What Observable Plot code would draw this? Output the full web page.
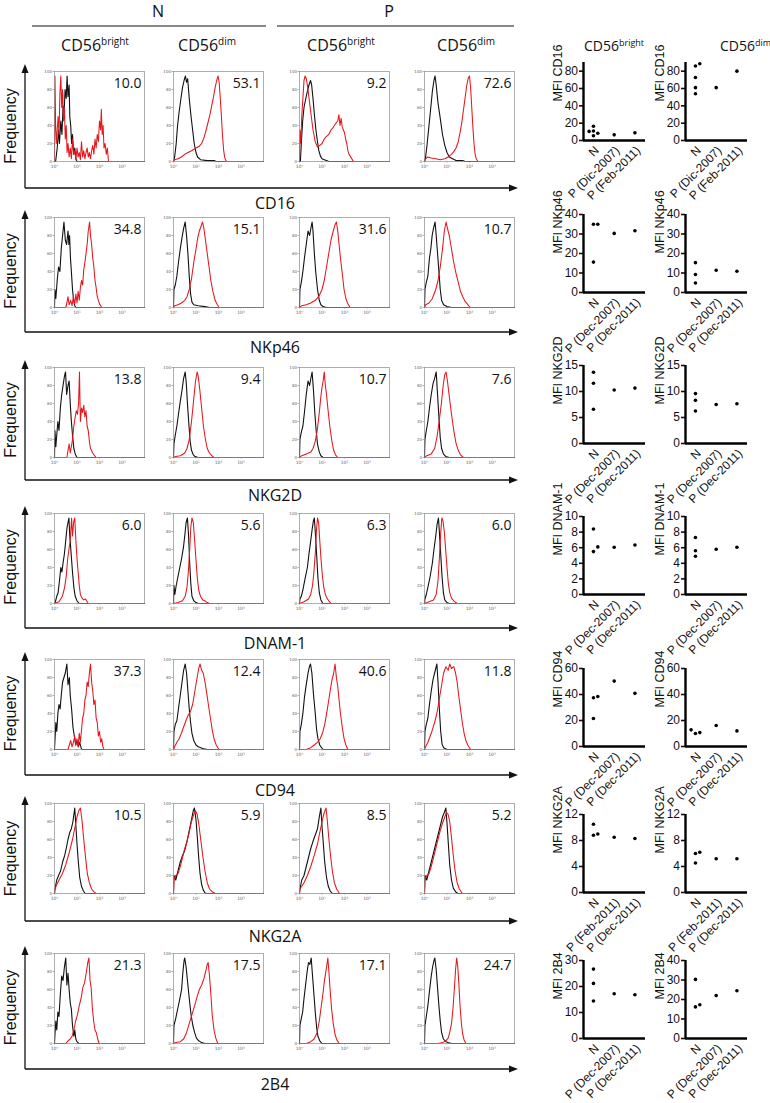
<!DOCTYPE html>
<html><head><meta charset="utf-8">
<script src="https://cdn.jsdelivr.net/npm/d3@7"></script>
<script src="https://cdn.jsdelivr.net/npm/@observablehq/plot@0.6"></script>
<style>
body{margin:0;background:#fff;}
#fig{position:relative;width:770px;height:1103px;overflow:hidden;background:#fff;}
#fig svg{position:absolute;overflow:visible;}
</style></head><body><div id="fig"></div>
<script>
// ---------------- data ----------------
const markers = ["CD16","NKp46","NKG2D","DNAM-1","CD94","NKG2A","2B4"];
const groupLabels = ["N","P"];
const subsetLabels = ["bright","dim","bright","dim"];
const percentLabels = [
  ["10.0","53.1","9.2","72.6"],
  ["34.8","15.1","31.6","10.7"],
  ["13.8","9.4","10.7","7.6"],
  ["6.0","5.6","6.3","6.0"],
  ["37.3","12.4","40.6","11.8"],
  ["10.5","5.9","8.5","5.2"],
  ["21.3","17.5","17.1","24.7"]
];
const decadeLabels = ["10⁰","10¹","10²","10³"];

// histogram curves: flat [log10(intensity), % of max, ...]; [isotype (black), stain (red)]
const histCD16 = [
  [[0,0,0.05,0,0.12,15,0.18,35,0.22,20,0.28,45,0.33,30,0.38,62,0.42,50,0.47,80,0.52,70,0.56,95,0.6,72,0.65,85,0.68,50,0.72,40,0.76,20,0.8,30,0.85,8,0.9,15,0.95,3,1.0,0,4,0],
   [0,0,0.02,95,0.05,40,0.08,20,0.12,35,0.16,50,0.2,30,0.24,75,0.28,95,0.32,60,0.36,80,0.4,45,0.44,60,0.48,25,0.52,40,0.56,10,0.6,20,0.65,5,0.7,15,0.75,3,0.8,25,0.85,8,0.9,12,0.95,2,1.0,15,1.05,5,1.1,10,1.15,2,1.2,22,1.25,5,1.3,12,1.35,3,1.4,10,1.45,15,1.5,5,1.55,10,1.6,3,1.65,12,1.7,18,1.75,8,1.8,25,1.85,15,1.9,30,1.95,22,2.0,45,2.05,35,2.08,58,2.12,30,2.16,40,2.2,15,2.25,20,2.3,8,2.35,15,2.4,0,4,0]],
  [[0,0,0.05,5,0.12,20,0.18,40,0.25,55,0.33,70,0.4,82,0.47,90,0.53,95,0.58,88,0.63,92,0.7,70,0.78,50,0.85,35,0.92,20,1.0,10,1.07,5,1.2,2,1.5,1,1.8,1,1.9,0,4,0],
   [0,0,0.05,2,0.2,3,0.35,5,0.5,8,0.65,10,0.8,12,1.0,15,1.15,17,1.25,20,1.35,26,1.45,35,1.55,45,1.62,52,1.7,62,1.78,72,1.85,82,1.92,90,1.98,95,2.03,88,2.08,70,2.13,50,2.18,28,2.23,12,2.28,4,2.35,0,4,0]],
  [[0,0,0.04,0,0.08,20,0.14,45,0.2,60,0.28,70,0.35,78,0.42,85,0.49,90,0.54,85,0.6,70,0.67,50,0.73,35,0.8,22,0.86,12,0.93,6,1.0,3,1.1,2,1.2,1,1.3,0,4,0],
   [0,0,0.02,35,0.06,20,0.1,50,0.15,70,0.2,90,0.25,95,0.3,92,0.35,85,0.4,75,0.45,65,0.5,55,0.55,45,0.6,35,0.7,22,0.8,16,0.9,18,1.0,20,1.1,25,1.2,28,1.3,30,1.4,35,1.5,38,1.6,42,1.7,45,1.75,52,1.8,40,1.85,48,1.9,38,2.0,32,2.05,25,2.1,20,2.15,12,2.2,8,2.3,4,2.4,0,4,0]],
  [[0,0,0.05,5,0.12,20,0.2,40,0.28,60,0.35,78,0.42,90,0.47,95,0.52,85,0.6,65,0.7,48,0.8,30,0.9,18,1.0,10,1.1,5,1.25,3,1.4,1,1.7,1,1.8,0,4,0],
   [0,0,0.05,3,0.15,5,0.3,4,0.5,3,0.7,2,0.9,3,1.05,5,1.2,8,1.3,11,1.4,15,1.5,22,1.58,32,1.65,42,1.72,55,1.8,70,1.88,85,1.95,93,2.0,95,2.05,82,2.1,60,2.15,38,2.2,20,2.25,8,2.3,3,2.38,0,4,0]]
];
const histNKp46 = [
  [[0,0,0.02,20,0.06,10,0.12,30,0.18,45,0.24,40,0.3,65,0.36,80,0.42,95,0.48,75,0.54,70,0.6,85,0.64,70,0.67,80,0.71,55,0.75,40,0.8,20,0.85,8,0.9,2,0.95,0,4,0],
   [0,0,0.5,0,0.55,5,0.6,12,0.65,3,0.72,8,0.78,2,0.84,12,0.9,4,0.95,15,1.0,5,1.05,18,1.1,8,1.15,22,1.2,30,1.25,25,1.3,42,1.35,50,1.4,60,1.45,70,1.5,85,1.56,95,1.6,80,1.65,70,1.7,55,1.75,45,1.8,30,1.85,22,1.9,12,1.95,8,2.0,4,2.1,0,4,0]],
  [[0,0,0.02,20,0.08,25,0.15,35,0.22,50,0.3,65,0.38,78,0.45,88,0.52,95,0.58,80,0.64,60,0.7,35,0.76,15,0.82,6,0.9,3,1.1,2,1.4,1,1.6,0,4,0],
   [0,0,0.05,2,0.2,3,0.35,5,0.5,8,0.6,12,0.7,20,0.8,32,0.9,50,1.0,65,1.08,78,1.15,85,1.22,90,1.29,95,1.35,88,1.42,75,1.5,60,1.58,45,1.66,30,1.75,18,1.85,8,1.95,3,2.03,0,4,0]],
  [[0,0,0.02,20,0.08,28,0.15,40,0.22,55,0.3,70,0.38,85,0.45,80,0.52,90,0.56,95,0.6,85,0.66,60,0.72,40,0.8,20,0.88,8,0.95,3,1.05,1,1.2,0,4,0],
   [0,0,0.1,2,0.3,3,0.5,5,0.7,8,0.85,12,1.0,20,1.1,30,1.2,45,1.3,60,1.4,75,1.5,85,1.58,92,1.64,95,1.7,85,1.76,70,1.82,55,1.9,38,1.98,20,2.06,10,2.15,4,2.25,0,4,0]],
  [[0,0,0.02,20,0.08,28,0.15,35,0.22,55,0.28,65,0.34,80,0.4,88,0.47,95,0.52,80,0.58,60,0.64,40,0.7,20,0.76,8,0.85,3,1.0,1,1.2,0,4,0],
   [0,0,0.05,3,0.2,5,0.35,10,0.5,20,0.6,30,0.7,45,0.8,65,0.88,85,0.96,95,1.02,88,1.1,80,1.2,65,1.3,50,1.4,38,1.5,28,1.6,18,1.7,12,1.8,7,1.9,4,2.03,0,4,0]]
];
const histNKG2D = [
  [[0,0,0.02,30,0.06,12,0.1,25,0.15,40,0.2,30,0.26,55,0.32,70,0.38,80,0.44,90,0.49,95,0.54,70,0.6,80,0.65,85,0.7,60,0.75,40,0.8,25,0.86,10,0.92,4,1.0,0,4,0],
   [0,0,0.55,0,0.6,8,0.65,15,0.7,5,0.75,12,0.8,20,0.86,35,0.92,45,0.97,52,1.02,48,1.07,60,1.11,95,1.15,40,1.2,55,1.25,50,1.3,58,1.35,45,1.4,52,1.45,35,1.5,30,1.55,18,1.6,10,1.7,5,1.78,2,1.85,0,4,0]],
  [[0,0,0.02,15,0.08,25,0.15,35,0.22,48,0.3,62,0.38,75,0.45,88,0.52,95,0.57,82,0.62,60,0.68,38,0.74,18,0.8,8,0.88,3,0.96,1,1.1,0,4,0],
   [0,0,0.1,1,0.3,2,0.5,5,0.6,10,0.7,20,0.8,40,0.9,65,0.98,85,1.05,95,1.1,90,1.17,75,1.25,55,1.33,35,1.42,20,1.5,10,1.6,5,1.7,2,1.8,0,4,0]],
  [[0,0,0.02,20,0.08,28,0.15,35,0.22,50,0.3,70,0.38,85,0.45,80,0.52,90,0.56,95,0.62,75,0.68,50,0.74,30,0.8,15,0.88,6,0.95,2,1.05,0,4,0],
   [0,0,0.1,2,0.3,4,0.5,6,0.6,10,0.7,18,0.8,32,0.88,50,0.95,68,1.0,78,1.05,85,1.1,95,1.15,80,1.2,70,1.28,50,1.36,32,1.44,18,1.52,8,1.6,3,1.7,0,4,0]],
  [[0,0,0.02,20,0.08,30,0.15,40,0.22,55,0.3,70,0.38,82,0.45,88,0.52,95,0.58,70,0.64,45,0.7,22,0.76,10,0.84,4,0.95,1,1.1,0,4,0],
   [0,0,0.1,2,0.3,4,0.45,10,0.55,22,0.65,40,0.75,60,0.83,80,0.9,92,0.96,95,1.02,85,1.1,68,1.2,48,1.3,30,1.4,16,1.5,8,1.6,3,1.73,0,4,0]]
];
const histDNAM1 = [
  [[0,0,0.04,2,0.1,8,0.16,12,0.22,25,0.28,40,0.33,35,0.38,45,0.44,55,0.5,70,0.56,85,0.6,90,0.64,95,0.68,75,0.74,55,0.8,35,0.86,18,0.92,8,1.0,3,1.1,0,4,0],
   [0,0,0.2,2,0.35,8,0.45,18,0.52,30,0.58,48,0.64,60,0.7,70,0.76,95,0.8,75,0.85,90,0.9,95,0.95,70,1.0,50,1.05,35,1.1,20,1.15,10,1.22,6,1.3,4,1.38,5,1.45,2,1.5,0,4,0]],
  [[0,0,0.02,20,0.06,10,0.12,20,0.2,30,0.28,40,0.36,50,0.44,62,0.5,75,0.56,90,0.62,95,0.67,75,0.72,45,0.77,22,0.82,8,0.9,3,1.0,1,1.1,0,4,0],
   [0,0,0.2,1,0.4,3,0.52,8,0.6,18,0.66,35,0.72,60,0.77,85,0.82,95,0.88,90,0.94,70,1.0,48,1.06,28,1.12,15,1.2,8,1.3,4,1.4,3,1.5,1,1.6,0,4,0]],
  [[0,0,0.02,5,0.08,8,0.15,15,0.25,28,0.35,40,0.42,55,0.5,70,0.56,82,0.62,92,0.66,95,0.7,80,0.76,55,0.82,28,0.88,12,0.95,4,1.04,0,4,0],
   [0,0,0.2,2,0.4,5,0.5,10,0.58,20,0.64,35,0.7,55,0.75,80,0.8,95,0.85,90,0.9,70,0.96,48,1.02,30,1.08,18,1.15,10,1.22,6,1.3,3,1.4,0,4,0]],
  [[0,0,0.02,5,0.08,10,0.15,18,0.25,30,0.35,45,0.42,60,0.5,75,0.56,88,0.62,95,0.66,80,0.72,55,0.78,30,0.84,12,0.9,4,1.0,1,1.1,0,4,0],
   [0,0,0.2,2,0.4,4,0.52,10,0.6,25,0.66,50,0.72,78,0.77,95,0.82,92,0.88,80,0.94,60,1.0,40,1.06,22,1.12,12,1.2,6,1.3,3,1.45,0,4,0]]
];
const histCD94 = [
  [[0,0,0.02,10,0.06,30,0.1,20,0.15,40,0.2,50,0.25,45,0.3,60,0.36,75,0.42,80,0.48,85,0.55,95,0.6,72,0.66,80,0.7,60,0.76,45,0.82,25,0.88,15,0.94,5,1.0,10,1.06,3,1.12,8,1.18,2,1.22,0,4,0],
   [0,0,0.6,0,0.66,5,0.72,10,0.78,3,0.84,8,0.9,15,0.95,5,1.0,12,1.05,3,1.1,18,1.15,8,1.2,22,1.25,35,1.3,40,1.35,55,1.4,60,1.45,75,1.5,70,1.55,85,1.6,95,1.65,75,1.7,65,1.75,50,1.8,55,1.85,35,1.9,30,1.95,15,2.0,20,2.05,8,2.1,12,2.15,3,2.2,0,4,0]],
  [[0,0,0.02,20,0.08,28,0.15,32,0.22,45,0.3,60,0.38,75,0.45,88,0.52,95,0.58,85,0.64,65,0.7,45,0.76,30,0.82,18,0.9,10,1.0,5,1.1,3,1.3,1,1.5,0,4,0],
   [0,0,0.05,3,0.15,8,0.25,12,0.35,18,0.45,25,0.55,32,0.65,38,0.75,42,0.85,50,0.95,65,1.05,80,1.12,90,1.18,95,1.25,88,1.32,85,1.4,75,1.48,62,1.56,48,1.64,35,1.72,22,1.8,12,1.9,5,2.02,0,4,0]],
  [[0,0,0.02,20,0.08,28,0.15,40,0.22,58,0.3,72,0.38,85,0.44,92,0.49,95,0.55,85,0.62,62,0.7,40,0.76,22,0.82,12,0.9,5,0.98,2,1.05,0,4,0],
   [0,0,0.3,0,0.5,2,0.65,5,0.8,8,0.92,12,1.02,18,1.12,28,1.22,42,1.3,55,1.38,68,1.45,78,1.52,85,1.58,95,1.64,80,1.7,70,1.76,55,1.82,40,1.9,25,1.98,12,2.06,5,2.15,0,4,0]],
  [[0,0,0.02,20,0.08,28,0.15,35,0.22,50,0.3,65,0.38,78,0.45,85,0.5,90,0.55,95,0.6,75,0.66,45,0.72,20,0.78,6,0.85,2,1.0,0,4,0],
   [0,0,0.05,3,0.15,8,0.3,18,0.45,30,0.55,40,0.65,55,0.75,70,0.85,85,0.95,92,1.05,88,1.12,95,1.2,90,1.3,92,1.38,85,1.45,75,1.52,60,1.6,45,1.68,30,1.76,18,1.84,10,1.92,5,2.05,0,4,0]]
];
const histNKG2A = [
  [[0,0,0.02,5,0.1,15,0.18,20,0.27,25,0.36,35,0.45,42,0.52,50,0.6,60,0.68,68,0.75,72,0.82,80,0.9,95,0.95,75,1.0,55,1.06,35,1.12,18,1.2,8,1.28,3,1.36,0,4,0],
   [0,0,0.02,5,0.1,10,0.2,15,0.35,22,0.5,32,0.65,45,0.8,60,0.92,75,1.0,85,1.08,92,1.15,95,1.22,82,1.3,60,1.38,40,1.46,22,1.55,12,1.65,5,1.75,2,1.85,0,4,0]],
  [[0,0,0.02,20,0.1,15,0.2,25,0.3,35,0.4,42,0.5,48,0.6,58,0.7,70,0.8,82,0.88,92,0.93,95,1.0,82,1.06,62,1.12,40,1.18,22,1.25,10,1.32,4,1.42,0,4,0],
   [0,0,0.02,15,0.1,20,0.2,22,0.3,30,0.4,40,0.5,50,0.6,58,0.7,68,0.8,80,0.9,88,0.98,92,1.05,88,1.12,78,1.2,62,1.3,42,1.4,25,1.5,12,1.6,5,1.72,2,1.85,0,4,0]],
  [[0,0,0.02,5,0.1,15,0.2,20,0.3,30,0.4,40,0.5,50,0.6,58,0.7,65,0.8,72,0.88,85,0.95,95,1.0,75,1.06,55,1.12,35,1.2,18,1.28,8,1.36,3,1.46,0,4,0],
   [0,0,0.02,5,0.1,8,0.2,12,0.35,20,0.5,30,0.65,42,0.8,55,0.92,70,1.02,82,1.1,90,1.18,95,1.24,80,1.3,62,1.38,42,1.46,25,1.55,12,1.65,5,1.78,0,4,0]],
  [[0,0,0.02,20,0.1,15,0.2,25,0.3,35,0.4,45,0.5,55,0.6,65,0.7,75,0.8,85,0.88,90,0.95,95,1.0,78,1.06,55,1.12,32,1.2,15,1.28,6,1.38,2,1.48,0,4,0],
   [0,0,0.02,15,0.1,20,0.2,22,0.3,30,0.4,40,0.5,50,0.6,60,0.7,70,0.8,78,0.9,85,0.98,90,1.05,88,1.12,80,1.2,62,1.28,42,1.36,25,1.45,12,1.55,5,1.68,0,4,0]]
];
const hist2B4 = [
  [[0,0,0.02,10,0.06,25,0.1,15,0.15,35,0.2,30,0.26,55,0.32,75,0.38,70,0.44,85,0.5,95,0.55,65,0.6,78,0.65,60,0.7,45,0.75,38,0.8,20,0.86,8,0.9,15,0.95,5,1.0,2,1.08,0,4,0],
   [0,0,0.5,0,0.6,3,0.7,5,0.78,8,0.86,15,0.94,25,1.02,32,1.1,42,1.18,50,1.26,62,1.34,68,1.42,80,1.48,90,1.53,95,1.58,70,1.63,62,1.68,40,1.74,25,1.8,15,1.86,12,1.92,5,1.98,0,4,0]],
  [[0,0,0.02,20,0.1,28,0.2,40,0.3,52,0.36,60,0.42,80,0.47,92,0.5,95,0.56,85,0.62,70,0.7,50,0.78,32,0.86,20,0.94,12,1.02,6,1.12,3,1.25,1,1.4,0,4,0],
   [0,0,0.1,1,0.3,2,0.45,5,0.58,12,0.7,22,0.82,32,0.94,42,1.05,52,1.15,60,1.25,65,1.35,72,1.43,80,1.5,88,1.54,90,1.6,75,1.66,55,1.72,32,1.8,15,1.88,6,1.97,0,4,0]],
  [[0,0,0.02,20,0.08,28,0.14,35,0.2,50,0.27,65,0.34,80,0.4,90,0.46,88,0.52,95,0.58,75,0.64,55,0.7,35,0.76,18,0.82,8,0.9,3,1.0,0,4,0],
   [0,0,0.3,0,0.5,2,0.65,5,0.78,12,0.88,25,0.96,40,1.04,55,1.1,68,1.16,78,1.22,88,1.26,95,1.3,82,1.36,60,1.42,40,1.5,22,1.58,10,1.66,4,1.76,0,4,0]],
  [[0,0,0.02,20,0.08,30,0.15,42,0.22,58,0.3,75,0.36,85,0.42,92,0.46,95,0.52,82,0.58,62,0.64,42,0.7,25,0.76,12,0.84,5,0.95,2,1.05,1,1.2,0,4,0],
   [0,0,0.6,0,0.8,1,0.95,3,1.05,6,1.12,12,1.2,22,1.27,40,1.33,62,1.38,82,1.43,95,1.48,85,1.53,65,1.58,42,1.64,22,1.7,10,1.76,4,1.84,0,4,0]]
];
const histRows = [histCD16, histNKp46, histNKG2D, histDNAM1, histCD94, histNKG2A, hist2B4];

// MFI scatter data
const catsDic = ["N","P (Dic-2007)","P (Feb-2011)"];
const catsDec = ["N","P (Dec-2007)","P (Dec-2011)"];
const catsFeb = ["N","P (Feb-2011)","P (Dec-2011)"];
const scatterCats = [catsDic, catsDec, catsDec, catsDec, catsDec, catsFeb, catsDec];
const mfiBrightN  = [[16.5,10.5,11,5.5,8.3],[35,35,15.6],[13.7,11.6,6.6],[8.4,5.5,6.1],[38.5,37.5,21.5],[10.5,8.8,9.0],[26.7,21.2,14.4]];
const mfiBrightP1 = [6.5,30.3,10.3,6.05,50.3,8.5,17.2];
const mfiBrightP2 = [8.8,31.7,10.65,6.35,40.9,8.3,16.8];
const mfiDimN  = [[88.5,86,72.7,61,54],[15.3,9.2,4.9],[9.6,8.3,6.25],[7.3,5.6,4.9],[12.8,10,10.7],[6.2,6.0,4.55],[30.3,16.2,17.3]];
const mfiDimP1 = [61,11.4,7.5,5.8,16.1,5.2,22];
const mfiDimP2 = [80,10.9,7.65,6.05,12,5.2,24.5];
const yTicksBright = [[0,20,40,60,80],[0,10,20,30,40],[0,5,10,15],[0,2,4,6,8,10],[0,20,40,60],[0,4,8,12],[0,10,20,30]];
const yTicksDim    = [[0,20,40,60,80],[0,10,20,30,40],[0,5,10,15],[0,2,4,6,8,10],[0,20,40,60],[0,4,8,12],[0,10,20,30,40]];
const yTopBright = [90,40,15,10,60,12,30];
const yTopDim    = [90,40,15,10,60,12,40];

// ---------------- layout ----------------
const fig = document.getElementById("fig");
const histLeft = [54,173,299,424];
const histTop = [71,217,367,513,659,803,953];
const arrowY = [188,332,480,628,775,921,1069];
const HW = 90, HH = 90;
const scatterAxisX = [583,685];
const scatterBaseY = [140,292.3,443.3,594.3,745.7,892.3,1038.3];
const SW = 62, SH = 78;
const mainFont = "'Open Sans', 'DejaVu Sans', sans-serif";
const arialFont = "'Liberation Sans', Arial, sans-serif";

function pairs(a){ const r=[]; for(let i=0;i<a.length;i+=2) r.push({x:a[i], y:a[i+1]}); return r; }

function place(svg, left, top){
  svg.style.left = left + "px";
  svg.style.top = top + "px";
  fig.appendChild(svg);
}

function histPanel(curves, label, left, top){
  const ml=14, mr=3, mt=5, mb=12;
  const svg = Plot.plot({
    width: HW+ml+mr, height: HH+mt+mb,
    marginLeft: ml, marginRight: mr, marginTop: mt, marginBottom: mb,
    x: {domain:[0,4]}, y: {domain:[0,100]},
    style: {background:"transparent", fontFamily: "'DejaVu Sans', sans-serif"},
    marks: [
      Plot.axisY({ticks:[0,20,40,60,80,100], tickSize:1.5, tickPadding:1, fontSize:4, color:"#666", strokeWidth:0.5, label:null}),
      Plot.axisX({ticks:[0,1,2,3], tickFormat:d=>decadeLabels[d], tickSize:1.5, tickPadding:1.5, fontSize:4.5, color:"#666", strokeWidth:0.5, label:null}),
      Plot.line(pairs(curves[0]), {x:"x", y:"y", stroke:"#111", strokeWidth:1.1}),
      Plot.line(pairs(curves[1]), {x:"x", y:"y", stroke:"#e5161c", strokeWidth:1.05}),
      Plot.frame({stroke:"#8c8c8c", strokeWidth:0.7}),
      Plot.text([label], {frameAnchor:"top-right", dx:-3, dy:7, lineAnchor:"top", fontSize:14, fill:"#111", fontFamily: mainFont})
    ]
  });
  place(svg, left-ml, top-mt);
}

function dodgeSlots(values, pxPerUnit, thresh){
  const order = values.map((v,i)=>i).sort((a,b)=>values[a]-values[b]);
  const slots = new Array(values.length), placed = [];
  for (const i of order){
    for (const s of [0,1,-1,2,-2]){
      if (!placed.some(j => slots[j]===s && Math.abs(values[j]-values[i])*pxPerUnit < thresh)){
        slots[i]=s; placed.push(i); break;
      }
    }
  }
  return slots;
}

function scatterPanel(nVals, p1, p2, cats, ticks, yTop, title, axisX, baseY){
  const ml=46, mr=6, mt=8, mb=74;
  const xDom = [-0.48, 2.51];
  const slots = dodgeSlots(nVals, SH/yTop, 4.7);
  const pts = nVals.map((v,i)=>({x: slots[i]*0.21, y:v}))
    .concat([{x:1, y:p1}, {x:2, y:p2}]);
  const svg = Plot.plot({
    width: SW+ml+mr, height: SH+mt+mb,
    marginLeft: ml, marginRight: mr, marginTop: mt, marginBottom: mb,
    x: {domain: xDom, axis: null}, y: {domain:[0, yTop], axis: null},
    style: {background:"transparent", fontFamily: arialFont},
    marks: [
      Plot.axisY({ticks, tickSize:4, tickPadding:1.5, fontSize:12, strokeWidth:1.6, color:"#111", label:null}),
      Plot.ruleX([xDom[0]], {stroke:"#000", strokeWidth:2.4}),
      Plot.ruleY([0], {stroke:"#000", strokeWidth:2.4}),
      Plot.dot(pts, {x:"x", y:"y", r:1.8, fill:"#000", stroke:null}),
      Plot.text(cats, {x:(d,i)=>i, y:0, text:d=>d, rotate:-45, textAnchor:"end", lineAnchor:"middle", dx:3.5, dy:8, fontSize:12, fill:"#111"}),
      Plot.text([title], {frameAnchor:"left", rotate:-90, dx:-25.5, fontSize:12.5, fill:"#111"})
    ]
  });
  place(svg, axisX-ml, baseY-SH-mt);
}

for (let r=0; r<7; r++){
  for (let c=0; c<4; c++) histPanel(histRows[r][c], percentLabels[r][c], histLeft[c], histTop[r]);
  scatterPanel(mfiBrightN[r], mfiBrightP1[r], mfiBrightP2[r], scatterCats[r], yTicksBright[r], yTopBright[r], "MFI " + markers[r], scatterAxisX[0], scatterBaseY[r]);
  scatterPanel(mfiDimN[r], mfiDimP1[r], mfiDimP2[r], scatterCats[r], yTicksDim[r], yTopDim[r], "MFI " + markers[r], scatterAxisX[1], scatterBaseY[r]);
}

// ---------------- annotations (headers, arrows, axis titles) ----------------
const ns = "http://www.w3.org/2000/svg";
const ov = document.createElementNS(ns, "svg");
ov.setAttribute("width", 770); ov.setAttribute("height", 1103);
ov.style.left = "0px"; ov.style.top = "0px";
ov.style.pointerEvents = "none";
function el(tag, attrs, text){
  const e = document.createElementNS(ns, tag);
  for (const k in attrs) e.setAttribute(k, attrs[k]);
  if (text != null) e.textContent = text;
  ov.appendChild(e); return e;
}
function cd56(x, y, sup, anchor, size, supSize){
  const t = el("text", {x, y, "text-anchor":anchor, "font-size":size, "font-family":mainFont, fill:"#111"});
  const a = document.createElementNS(ns, "tspan"); a.textContent = "CD56"; t.appendChild(a);
  const b = document.createElementNS(ns, "tspan"); b.textContent = sup;
  b.setAttribute("font-size", supSize); b.setAttribute("dy", -size*0.38); t.appendChild(b);
}
// group headers
el("text", {x:158, y:17, "text-anchor":"middle", "font-size":16, "font-family":mainFont, fill:"#111"}, groupLabels[0]);
el("text", {x:389, y:17, "text-anchor":"middle", "font-size":16, "font-family":mainFont, fill:"#111"}, groupLabels[1]);
el("line", {x1:32, x2:266, y1:26, y2:26, stroke:"#111", "stroke-width":1.2});
el("line", {x1:277, x2:514, y1:26, y2:26, stroke:"#111", "stroke-width":1.2});
const subX = [95, 207, 341, 466];
subsetLabels.forEach((s,i)=>cd56(subX[i], 51, s, "middle", 16, 10));
cd56(614, 51, "bright", "middle", 14, 9);
cd56(720, 51, "dim", "start", 14, 9);
// row arrows and labels
for (let r=0; r<7; r++){
  const ay = arrowY[r], top = histTop[r]-7;
  el("line", {x1:25, x2:511, y1:ay, y2:ay, stroke:"#111", "stroke-width":1.3});
  el("path", {d:`M518,${ay} L509,${ay-3.5} L509,${ay+3.5} Z`, fill:"#111"});
  el("line", {x1:25, x2:25, y1:ay, y2:top+6, stroke:"#111", "stroke-width":1.3});
  el("path", {d:`M25,${top} L21.5,${top+9} L28.5,${top+9} Z`, fill:"#111"});
  const fy = (top+ay)/2;
  el("text", {x:0, y:0, transform:`translate(16,${fy}) rotate(-90)`, "text-anchor":"middle", "font-size":16, "font-family":arialFont, fill:"#111"}, "Frequency");
  el("text", {x:275, y:ay+20.5, "text-anchor":"middle", "font-size":16, "font-family":mainFont, fill:"#111"}, markers[r]);
}
fig.appendChild(ov);
</script></body></html>
